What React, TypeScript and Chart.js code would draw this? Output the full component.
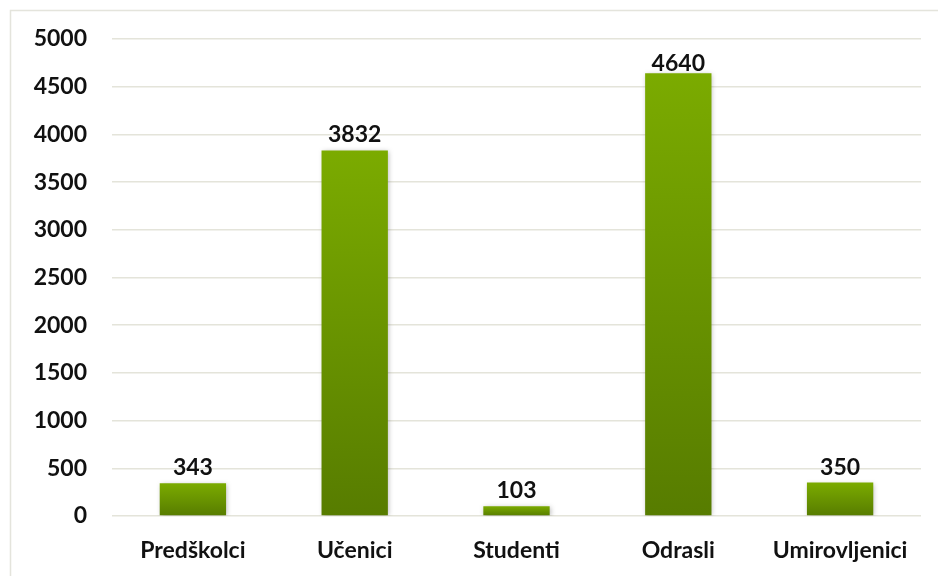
import React, { useEffect, useRef } from "react";
import { Chart, registerables } from "chart.js";

Chart.register(...registerables);

const categories = ["Predškolci", "Učenici", "Studenti", "Odrasli", "Umirovljenici"];
const values = [343, 3832, 103, 4640, 350];
const yMin = 0;
const yMax = 5000;
const yStep = 500;

const FONT = "Lato, 'Noto Sans', sans-serif";
const FSIZE = 23;

export default function App() {
  const ref = useRef<HTMLCanvasElement | null>(null);
  useEffect(() => {
    document.body.style.margin = "0";
    const canvas = ref.current!;
    const borderPlugin = {
      id: "outerBorder",
      beforeDraw(chart: any) {
        const ctx = chart.ctx;
        ctx.save();
        ctx.strokeStyle = "#e4e4dc";
        ctx.lineWidth = 1.5;
        ctx.strokeRect(10.5, 10.5, 940, 590);
        ctx.restore();
      },
    };
    const shadowPlugin = {
      id: "barShadow",
      beforeDatasetDraw(chart: any) {
        const ctx = chart.ctx;
        ctx.save();
        ctx.shadowColor = "rgba(0,0,0,0.28)";
        ctx.shadowBlur = 5;
        ctx.shadowOffsetX = 1;
        ctx.shadowOffsetY = 1;
      },
      afterDatasetDraw(chart: any) {
        chart.ctx.restore();
      },
    };
    const labelPlugin = {
      id: "valueLabels",
      afterDatasetsDraw(chart: any) {
        const ctx = chart.ctx;
        const meta = chart.getDatasetMeta(0);
        ctx.save();
        ctx.font = `bold ${FSIZE}px ${FONT}`;
        ctx.fillStyle = "#111111";
        ctx.textAlign = "center";
        ctx.textBaseline = "alphabetic";
        meta.data.forEach((bar: any, i: number) => {
          const y = Math.max(bar.y - 8, chart.chartArea.top + 32);
          ctx.fillText(String(values[i]), bar.x, y);
        });
        ctx.restore();
      },
    };
    const chart = new Chart(canvas, {
      type: "bar",
      data: {
        labels: categories,
        datasets: [
          {
            data: values,
            backgroundColor: (c: any) => {
              const chartObj = c.chart;
              const ys = chartObj.scales?.y;
              if (!ys || c.dataIndex === undefined) return "#6e9a00";
              const top = ys.getPixelForValue(values[c.dataIndex]);
              const bot = ys.getPixelForValue(0);
              if (!isFinite(top) || !isFinite(bot) || top === bot) return "#6e9a00";
              const g = chartObj.ctx.createLinearGradient(0, top, 0, bot);
              g.addColorStop(0, "#7bab00");
              g.addColorStop(1, "#577c00");
              return g;
            },
            borderWidth: 0,
            barPercentage: 0.82,
            categoryPercentage: 0.5,
          },
        ],
      },
      options: {
        animation: false,
        responsive: false,
        maintainAspectRatio: false,
        layout: { padding: { top: 39, right: 17, bottom: 0, left: 0 } },
        plugins: { legend: { display: false }, tooltip: { enabled: false } },
        scales: {
          x: {
            grid: { display: false, drawTicks: false },
            border: { display: false },
            ticks: {
              color: "#111111",
              font: { family: FONT, size: FSIZE, weight: "bold" },
              padding: 21,
              maxRotation: 0,
            },
            afterFit: (s: any) => {
              s.height = 60;
            },
          },
          y: {
            min: yMin,
            max: yMax,
            ticks: {
              stepSize: yStep,
              color: "#111111",
              font: { family: FONT, size: FSIZE, weight: "bold" },
              padding: 25,
              callback: (v: any) => String(v),
            },
            grid: { color: "#e4e4da", lineWidth: 1.5, drawTicks: false },
            border: { display: false },
            afterFit: (s: any) => {
              s.width = 112;
            },
          },
        },
      },
      plugins: [borderPlugin, shadowPlugin, labelPlugin],
    });
    return () => chart.destroy();
  }, []);
  return (
    <div style={{ position: "absolute", left: 0, top: 0, width: 938, height: 576, background: "#ffffff" }}>
      <canvas ref={ref} width={938} height={576} style={{ display: "block" }} />
    </div>
  );
}
